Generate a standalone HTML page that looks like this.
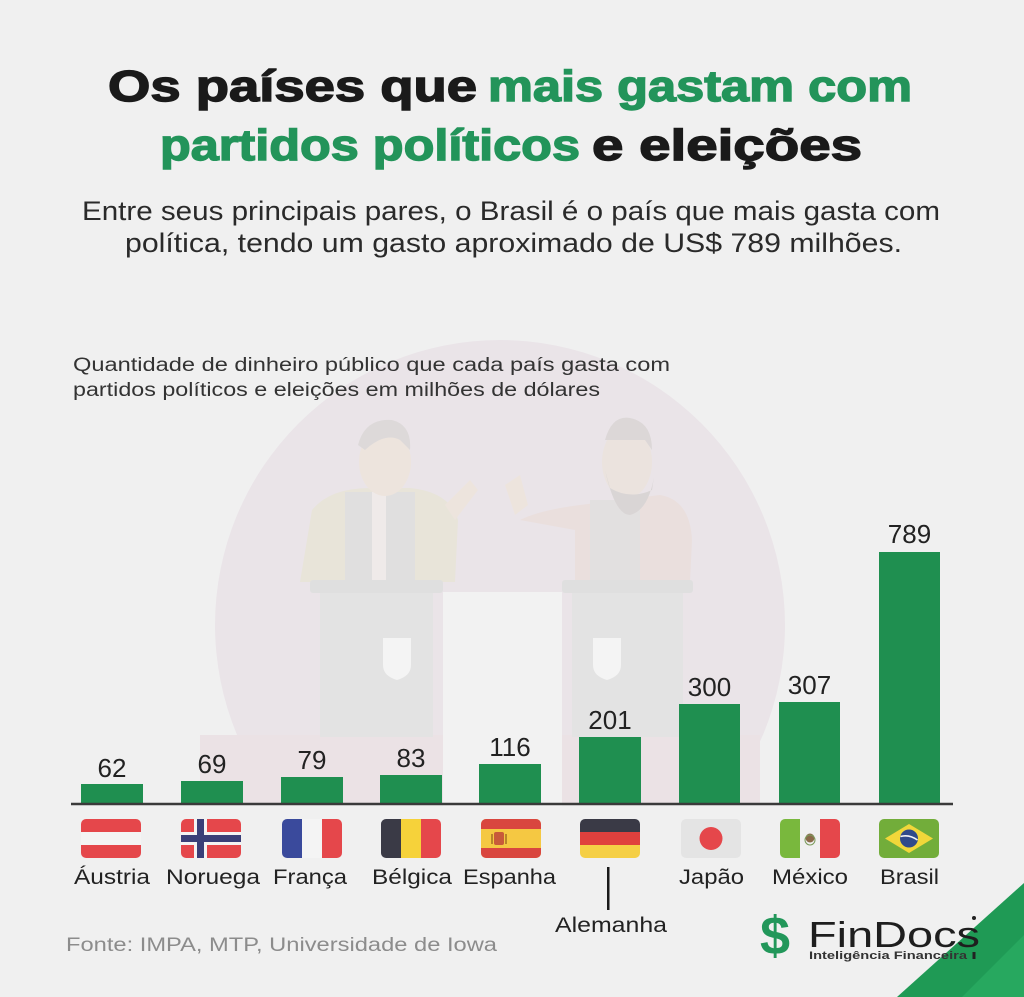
<!DOCTYPE html>
<html>
<head>
<meta charset="utf-8">
<style>
  html,body{margin:0;padding:0;background:#f0f0f0;}
  svg{display:block;}
  text{font-family:"Liberation Sans",sans-serif;}
</style>
</head>
<body>
<svg width="1024" height="997" viewBox="0 0 1024 997" xmlns="http://www.w3.org/2000/svg">
  <defs>
    <clipPath id="fc"><rect x="0" y="0" width="60" height="39" rx="5" ry="5"/></clipPath>
    <clipPath id="circ"><rect x="0" y="300" width="1024" height="504"/></clipPath>
  </defs>
  <rect width="1024" height="997" fill="#f0f0f0"/>

  <!-- faint background illustration -->
  <g opacity="0.55">
    <g clip-path="url(#circ)">
      <circle cx="500" cy="625" r="285" fill="#e6dbe3"/>
    </g>
    <rect x="200" y="735" width="560" height="68" fill="#e8d8dd"/>
    <rect x="443" y="592" width="119" height="215" fill="#f5f5f5"/>
    <!-- left character -->
    <path d="M300 582 L312 510 Q330 488 370 488 L410 488 Q450 492 458 520 L455 582 Z" fill="#e2dcc8"/>
    <rect x="345" y="492" width="70" height="90" fill="#d4d2d2"/>
    <rect x="372" y="492" width="14" height="90" fill="#efe6e4"/>
    <ellipse cx="385" cy="462" rx="26" ry="34" fill="#ecdccf"/>
    <path d="M358 445 Q365 418 392 420 Q412 425 410 450 L400 440 Q385 432 365 450 Z" fill="#cfc8c8"/>
    <path d="M445 505 L470 480 L478 490 L455 520 Z" fill="#ecdccf"/>
    <!-- right character -->
    <path d="M520 520 Q540 510 580 505 L660 495 Q690 500 692 540 L690 582 L575 582 L575 530 Z" fill="#e6d2cf"/>
    <rect x="590" y="500" width="50" height="82" fill="#d8d4d4"/>
    <ellipse cx="627" cy="462" rx="25" ry="36" fill="#e8dad0"/>
    <path d="M605 470 Q615 515 630 515 Q650 510 655 470 L652 490 Q630 500 610 488 Z" fill="#c8c0c0"/>
    <path d="M605 440 Q612 415 630 418 Q652 422 652 450 L645 440 L612 440 Z" fill="#ccc4c4"/>
    <path d="M505 485 L520 475 L528 505 L515 515 Z" fill="#ecdccf"/>
    <!-- podiums -->
    <rect x="310" y="580" width="133" height="13" rx="3" fill="#d2d2d2"/>
    <rect x="320" y="593" width="113" height="144" fill="#dadada"/>
    <path d="M383 638 L411 638 L411 665 Q411 676 397 680 Q383 676 383 665 Z" fill="#f8f8f8"/>
    <rect x="562" y="580" width="131" height="13" rx="3" fill="#d2d2d2"/>
    <rect x="572" y="593" width="111" height="144" fill="#dadada"/>
    <path d="M593 638 L621 638 L621 665 Q621 676 607 680 Q593 676 593 665 Z" fill="#f8f8f8"/>
  </g>

  <!-- Title -->
  <g stroke-width="1.4">
    <text x="108" y="101" font-size="44" font-weight="bold" fill="#1a1a1a" stroke="#1a1a1a" textLength="369" lengthAdjust="spacingAndGlyphs">Os países que</text>
    <text x="488" y="101" font-size="44" font-weight="bold" fill="#23945a" stroke="#23945a" textLength="424" lengthAdjust="spacingAndGlyphs">mais gastam com</text>
    <text x="160" y="160" font-size="44" font-weight="bold" fill="#23945a" stroke="#23945a" textLength="420" lengthAdjust="spacingAndGlyphs">partidos políticos</text>
    <text x="592" y="160" font-size="44" font-weight="bold" fill="#1a1a1a" stroke="#1a1a1a" textLength="270" lengthAdjust="spacingAndGlyphs">e eleições</text>
  </g>

  <!-- Subtitle -->
  <text x="82" y="220" font-size="27" fill="#2a2a2a" textLength="858" lengthAdjust="spacingAndGlyphs">Entre seus principais pares, o Brasil é o país que mais gasta com</text>
  <text x="125" y="252" font-size="27" fill="#2a2a2a" textLength="777" lengthAdjust="spacingAndGlyphs">política, tendo um gasto aproximado de US$ 789 milhões.</text>

  <!-- Caption -->
  <text x="73" y="371" font-size="19" fill="#333" textLength="597" lengthAdjust="spacingAndGlyphs">Quantidade de dinheiro público que cada país gasta com</text>
  <text x="73" y="396" font-size="19" fill="#333" textLength="527" lengthAdjust="spacingAndGlyphs">partidos políticos e eleições em milhões de dólares</text>

  <!-- Bars -->
  <g fill="#1f8f50">
    <rect x="81" y="784" width="62" height="20"/>
    <rect x="181" y="781" width="62" height="23"/>
    <rect x="281" y="777" width="62" height="27"/>
    <rect x="380" y="775" width="62" height="29"/>
    <rect x="479" y="764" width="62" height="40"/>
    <rect x="579" y="737" width="62" height="67"/>
    <rect x="679" y="704" width="61" height="100"/>
    <rect x="779" y="702" width="61" height="102"/>
    <rect x="879" y="552" width="61" height="252"/>
  </g>
  <line x1="71" y1="804" x2="953" y2="804" stroke="#3a3a3a" stroke-width="2.5"/>

  <!-- Value labels -->
  <g font-size="26" fill="#222" text-anchor="middle">
    <text x="112" y="777">62</text>
    <text x="212" y="773">69</text>
    <text x="312" y="769">79</text>
    <text x="411" y="767">83</text>
    <text x="510" y="756">116</text>
    <text x="610" y="729">201</text>
    <text x="709.5" y="696">300</text>
    <text x="809.5" y="694">307</text>
    <text x="909.5" y="543">789</text>
  </g>

  <!-- Flags -->
  <g transform="translate(81,819)" clip-path="url(#fc)">
    <rect width="60" height="39" fill="#f4f4f4"/>
    <rect width="60" height="13" fill="#e5474b"/>
    <rect y="26" width="60" height="13" fill="#e5474b"/>
  </g>
  <g transform="translate(181,819)" clip-path="url(#fc)">
    <rect width="60" height="39" fill="#e5474b"/>
    <rect x="13" width="13" height="39" fill="#f4f4f4"/>
    <rect y="13" width="60" height="13" fill="#f4f4f4"/>
    <rect x="16" width="7" height="39" fill="#3a3f78"/>
    <rect y="16" width="60" height="7" fill="#3a3f78"/>
  </g>
  <g transform="translate(282,819)" clip-path="url(#fc)">
    <rect width="60" height="39" fill="#f4f4f4"/>
    <rect width="20" height="39" fill="#3a4a9c"/>
    <rect x="40" width="20" height="39" fill="#e5474b"/>
  </g>
  <g transform="translate(381,819)" clip-path="url(#fc)">
    <rect width="20" height="39" fill="#3a3a46"/>
    <rect x="20" width="20" height="39" fill="#f6d23a"/>
    <rect x="40" width="20" height="39" fill="#e5474b"/>
  </g>
  <g transform="translate(481,819)" clip-path="url(#fc)">
    <rect width="60" height="39" fill="#f5c842"/>
    <rect width="60" height="10" fill="#d9463f"/>
    <rect y="29" width="60" height="10" fill="#d9463f"/>
    <rect x="13" y="13" width="10" height="13" rx="2" fill="#c85a3a"/>
    <rect x="10" y="15" width="2" height="10" fill="#b8862a"/>
    <rect x="24" y="15" width="2" height="10" fill="#b8862a"/>
  </g>
  <g transform="translate(580,819)" clip-path="url(#fc)">
    <rect width="60" height="13" fill="#3a3a46"/>
    <rect y="13" width="60" height="13" fill="#e0403d"/>
    <rect y="26" width="60" height="13" fill="#f5cf45"/>
  </g>
  <g transform="translate(681,819)" clip-path="url(#fc)">
    <rect width="60" height="39" fill="#e4e4e4"/>
    <circle cx="30" cy="19.5" r="11.5" fill="#e5474b"/>
  </g>
  <g transform="translate(780,819)" clip-path="url(#fc)">
    <rect width="60" height="39" fill="#f0f0f0"/>
    <rect width="20" height="39" fill="#79b83d"/>
    <rect x="40" width="20" height="39" fill="#e5474b"/>
    <circle cx="30" cy="19" r="4.5" fill="#8a6a4a"/>
    <circle cx="30" cy="21" r="5" fill="none" stroke="#7a9a5a" stroke-width="1"/>
  </g>
  <g transform="translate(879,819)" clip-path="url(#fc)">
    <rect width="60" height="39" fill="#72ad3a"/>
    <polygon points="30,5 54,19.5 30,34 6,19.5" fill="#f1d73a"/>
    <circle cx="30" cy="19.5" r="9" fill="#2f4a8a"/>
    <path d="M21.5 17.5 Q30 15 38.5 21" stroke="#f4f4f4" stroke-width="1.6" fill="none"/>
  </g>

  <!-- Country labels -->
  <g font-size="21" fill="#222">
    <text x="74" y="884" textLength="76" lengthAdjust="spacingAndGlyphs">Áustria</text>
    <text x="166" y="884" textLength="94" lengthAdjust="spacingAndGlyphs">Noruega</text>
    <text x="273" y="884" textLength="74" lengthAdjust="spacingAndGlyphs">França</text>
    <text x="372" y="884" textLength="80" lengthAdjust="spacingAndGlyphs">Bélgica</text>
    <text x="463" y="884" textLength="93" lengthAdjust="spacingAndGlyphs">Espanha</text>
    <text x="679" y="884" textLength="65" lengthAdjust="spacingAndGlyphs">Japão</text>
    <text x="772" y="884" textLength="76" lengthAdjust="spacingAndGlyphs">México</text>
    <text x="880" y="884" textLength="59" lengthAdjust="spacingAndGlyphs">Brasil</text>
    <text x="555" y="932" textLength="112" lengthAdjust="spacingAndGlyphs">Alemanha</text>
  </g>
  <rect x="607" y="867" width="2.5" height="43" fill="#1a1a1a"/>

  <!-- Footer -->
  <text x="66" y="951" font-size="19" fill="#8c8c8c" textLength="431" lengthAdjust="spacingAndGlyphs">Fonte: IMPA, MTP, Universidade de Iowa</text>

  <!-- Corner triangles -->
  <polygon points="1024,883 1024,997 897,997" fill="#1f9a55"/>
  <polygon points="1024,935 1024,997 962,997" fill="#27a85f"/>

  <!-- Logo -->
  <text x="775" y="954" font-size="54" font-weight="bold" fill="#22975a" text-anchor="middle">$</text>
  <text x="808" y="947" font-size="36" fill="#1e1e1e" textLength="172" lengthAdjust="spacingAndGlyphs">FinDocs</text>
  <text x="809" y="959" font-size="11" font-weight="bold" fill="#333" font-family="Liberation Mono, monospace" textLength="158" lengthAdjust="spacingAndGlyphs">Inteligência Financeira</text>
  <circle cx="974" cy="918" r="2" fill="#222"/>
  <rect x="972.5" y="952" width="3" height="7" fill="#222"/>
</svg>
</body>
</html>
